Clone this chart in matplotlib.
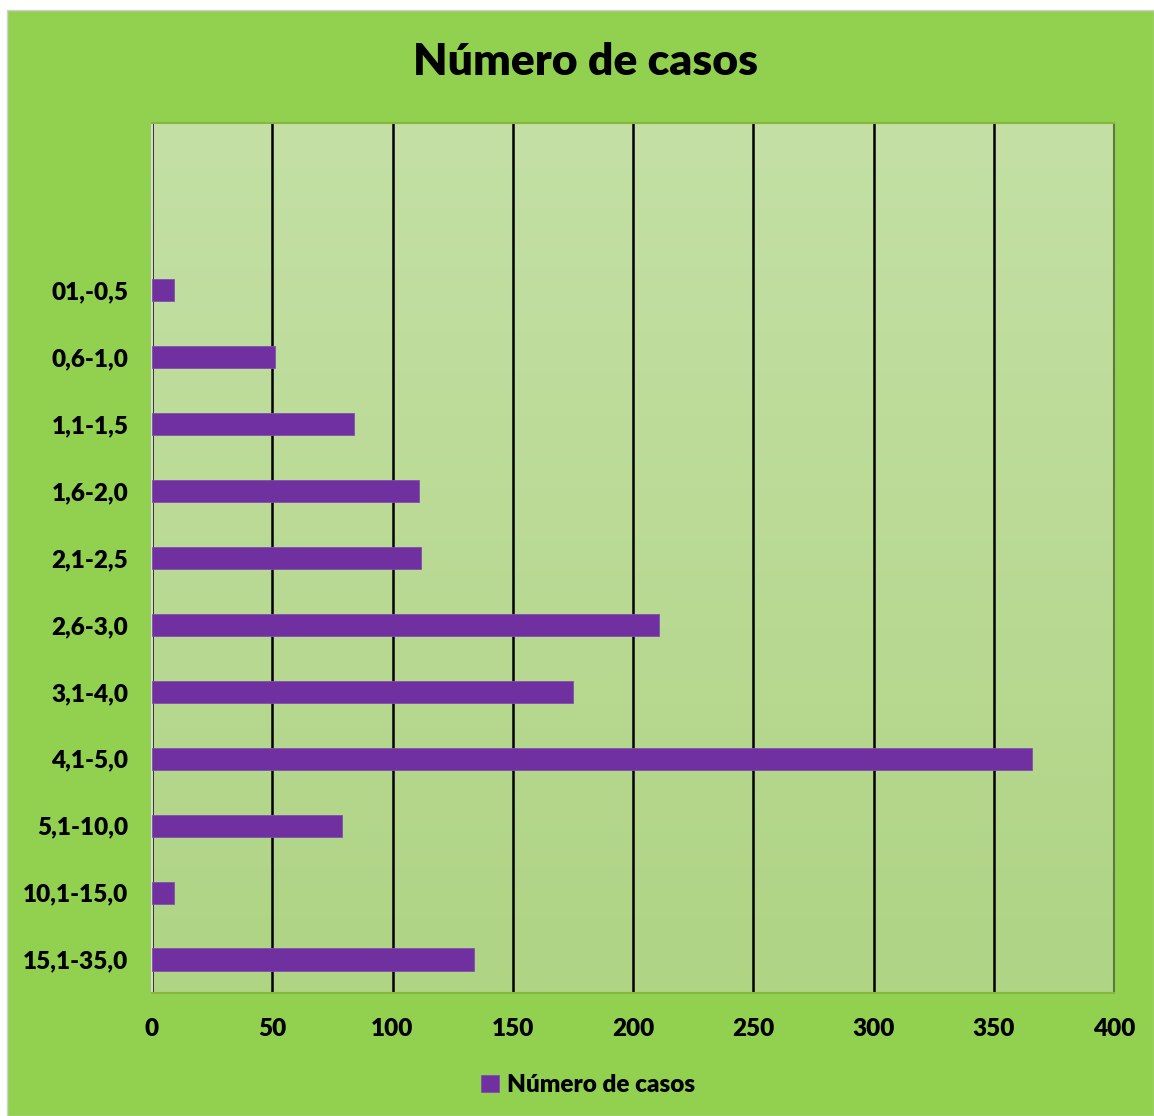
import matplotlib.pyplot as plt
import matplotlib.patches as mpatches
import numpy as np

plt.rcParams['font.family'] = ['Lato', 'DejaVu Sans']

# categories from bottom to top (Excel order), two empty slots at the top
labels = ["15,1-35,0", "10,1-15,0", "5,1-10,0", "4,1-5,0", "3,1-4,0", "2,6-3,0",
          "2,1-2,5", "1,6-2,0", "1,1-1,5", "0,6-1,0", "01,-0,5", "", ""]
casos = [134, 9, 79, 366, 175, 211, 112, 111, 84, 51, 9]
xticks = [0, 50, 100, 150, 200, 250, 300, 350, 400]

W, H = 1154, 1116
fig = plt.figure(figsize=(W / 100, H / 100), dpi=100)
fig.patch.set_facecolor('white')
# green chart area with small white margin
fig.patches.append(mpatches.Rectangle((7 / W, 0), 1 - 7 / W, 1 - 10 / H,
                                      transform=fig.transFigure,
                                      facecolor='#92D050', edgecolor='#d0d0d0',
                                      lw=1, zorder=-10))

ax = fig.add_axes([152 / W, 1 - 993 / H, (1114 - 152) / W, (993 - 123) / H])
ax.set_facecolor('none')

# light gradient behind the plot
grad = np.linspace(0, 1, 256).reshape(-1, 1)
top = np.array([0xC4, 0xE0, 0xA5]) / 255
bot = np.array([0xAF, 0xD4, 0x84]) / 255
img = top + (bot - top) * grad[..., None]
ax.imshow(img, extent=[0, 400, -0.5, 12.5], aspect='auto', zorder=0,
          origin='upper')

ax.barh(np.arange(len(casos)), casos, height=0.33, color='#7030A0',
        edgecolor='#8050B0', lw=0.6, zorder=3, label='Número de casos')

ax.set_xlim(0, 400)
ax.set_ylim(-0.5, 12.5)
ax.set_xticks(xticks)
ax.set_xticklabels([str(t) for t in xticks], fontsize=17.5, fontweight='heavy')
ax.set_yticks(np.arange(len(labels)))
ax.set_yticklabels(labels, fontsize=17.5, fontweight='heavy')
ax.tick_params(length=0)
ax.tick_params(axis='x', pad=18)
ax.tick_params(axis='y', pad=17)
ax.grid(axis='x', color='black', lw=1.8, zorder=1)
for s in ['top', 'bottom']:
    ax.spines[s].set_color('#86B840')
    ax.spines[s].set_linewidth(1.5)
ax.spines['left'].set_color('#d8d8d8')
ax.spines['left'].set_linewidth(1.5)
ax.spines['right'].set_color('#5a7a40')
ax.spines['right'].set_linewidth(1.5)

fig.text(585 / W, 1 - 62 / H, 'Número de casos', ha='center', va='center',
         fontsize=32, fontweight='heavy')

leg = fig.legend(loc='center', bbox_to_anchor=(588 / W, 1 - 1085 / H),
                 frameon=False, prop={'size': 17.5, 'weight': 'heavy'},
                 handlelength=0.75, handleheight=0.75, handletextpad=0.3)

fig.savefig('out.png', dpi=100)
